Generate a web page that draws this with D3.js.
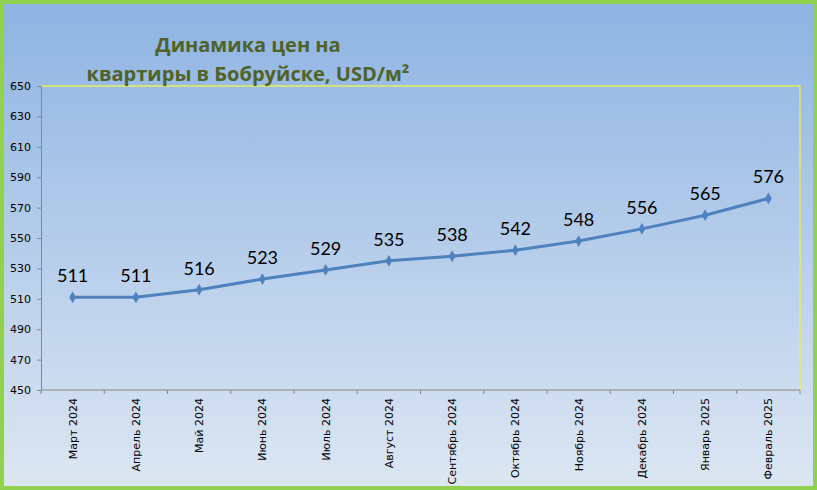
<!DOCTYPE html>
<html><head><meta charset="utf-8">
<script src="https://cdn.jsdelivr.net/npm/d3@7"></script>
<style>body{margin:0;padding:0;overflow:hidden}</style>
</head><body>
<svg id="chart" width="817" height="490"></svg>
<script>
const categories = ["Март 2024","Апрель 2024","Май 2024","Июнь 2024","Июль 2024","Август 2024","Сентябрь 2024","Октябрь 2024","Ноябрь 2024","Декабрь 2024","Январь 2025","Февраль 2025"];
const values = [511,511,516,523,529,535,538,542,548,556,565,576];
const yTicks = [450,470,490,510,530,550,570,590,610,630,650];
const titleLines = ["Динамика цен на","квартиры в Бобруйске, USD/м²"];

(function(){
const svg = d3.select("#chart");
const W = 817, H = 490;
const defs = svg.append("defs");
const grad = defs.append("linearGradient").attr("id","bg").attr("x1",0).attr("y1",0).attr("x2",0).attr("y2",1);
grad.append("stop").attr("offset","0%").attr("stop-color","#8DB3E2");
grad.append("stop").attr("offset","100%").attr("stop-color","#DDE7F3");
svg.append("rect").attr("x",0).attr("y",0).attr("width",W).attr("height",H).attr("fill","url(#bg)");
svg.append("rect").attr("x",2).attr("y",2).attr("width",W-4).attr("height",H-4)
  .attr("fill","none").attr("stroke","#92D050").attr("stroke-width",4);

const pLeft = 41, pRight = 800, pTop = 86, pBottom = 390;
const x = d3.scaleBand().domain(categories).range([pLeft,pRight]);
const y = d3.scaleLinear().domain([450,650]).range([pBottom,pTop]);

svg.append("path").attr("d",`M${pLeft},${pTop}H${pRight}V${pBottom}`).attr("fill","none").attr("stroke","#E6F05A").attr("stroke-width",1.3);

const yAxis = d3.axisLeft(y).tickValues(yTicks).tickSize(4).tickPadding(6);
const gy = svg.append("g").attr("transform",`translate(${pLeft},0)`).call(yAxis);
gy.select(".domain").attr("stroke","#868686");
gy.selectAll(".tick line").attr("stroke","#868686");
gy.selectAll("text").attr("font-family","DejaVu Sans, Verdana, sans-serif").attr("font-size","11px").attr("fill","#000");

const gx = svg.append("g").attr("transform",`translate(0,${pBottom})`);
gx.append("line").attr("x1",pLeft).attr("x2",pRight).attr("stroke","#868686");
const tickPos = categories.map(c=>x(c)).concat([pRight]);
gx.selectAll("line.t").data(tickPos).enter().append("line").attr("class","t")
  .attr("x1",d=>d).attr("x2",d=>d).attr("y1",0).attr("y2",4).attr("stroke","#868686");
gx.selectAll("text").data(categories).enter().append("text")
  .attr("transform",d=>`translate(${x(d)+x.bandwidth()/2+4},8) rotate(-90)`)
  .attr("text-anchor","end")
  .attr("font-family","DejaVu Sans, Verdana, sans-serif").attr("font-size","11px").attr("fill","#000")
  .text(d=>d);

const cx = d => x(d)+x.bandwidth()/2;
const line = d3.line().x((d,i)=>cx(categories[i])).y(d=>y(d));
svg.append("path").datum(values).attr("d",line).attr("fill","none").attr("stroke","#4F81BD").attr("stroke-width",3);
svg.selectAll("path.m").data(values).enter().append("path").attr("class","m")
  .attr("d",d3.symbol().type(d3.symbolDiamond).size(40))
  .attr("transform",(d,i)=>`translate(${cx(categories[i])},${y(d)})`)
  .attr("fill","#4F81BD");
svg.selectAll("text.v").data(values).enter().append("text").attr("class","v")
  .attr("x",(d,i)=>cx(categories[i])).attr("y",d=>y(d)-15)
  .attr("text-anchor","middle").attr("font-family","Lato, 'Open Sans', sans-serif").attr("font-size","18px").attr("fill","#000")
  .text(d=>d);

svg.selectAll("text.title").data(titleLines).enter().append("text").attr("class","title")
  .attr("x",248).attr("y",(d,i)=>52+i*29).attr("text-anchor","middle")
  .attr("font-family","'Open Sans', 'Noto Sans', sans-serif").attr("font-weight","bold").attr("font-size","20px")
  .attr("fill","#4F6228").text(d=>d);
})();
</script>
</body></html>
